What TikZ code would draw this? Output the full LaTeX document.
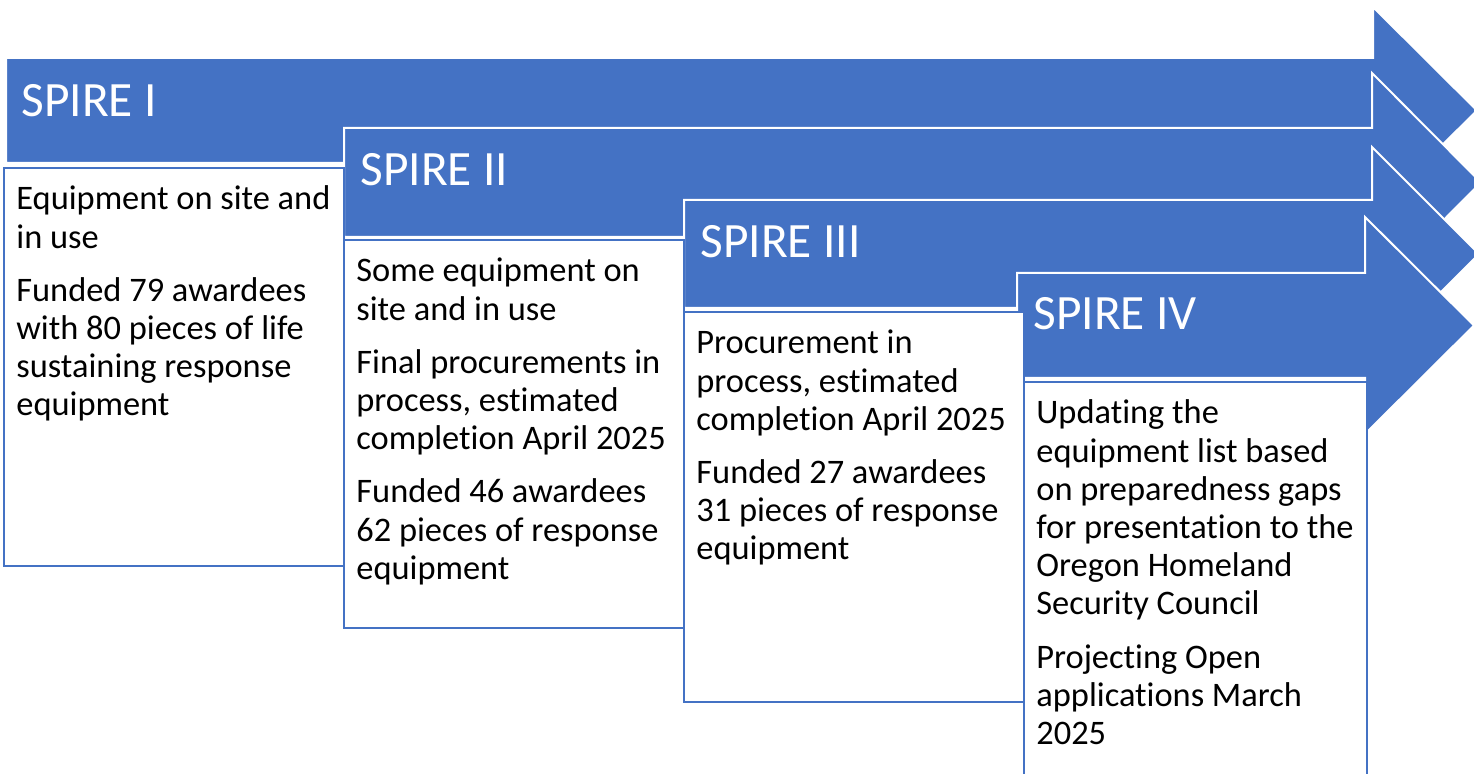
\documentclass[tikz,border=0pt]{standalone}
\usepackage{fontspec}
\setmainfont{Carlito}[Ligatures=NoCommon]
\definecolor{spireblue}{HTML}{4472C4}
\begin{document}
\begin{tikzpicture}[x=0.5pt,y=-0.5pt,
  arrowshape/.style={fill=spireblue,draw=white,line width=1pt,line join=miter},
  infobox/.style={fill=white,draw=spireblue,line width=1pt},
  phase/.style={anchor=base west,inner sep=0pt,text=white,font=\fontsize{24.7}{29}\selectfont},
  infotext/.style={anchor=base west,inner sep=0pt,text width=175pt,align=flush left,font=\fontsize{17.2}{19.1}\selectfont}]
 \useasboundingbox (0,0) rectangle (1474,774);
  % the four arrows, left end / top / bottom / neck / head top / tip
  \foreach \x/\t/\b/\n/\h/\p in {6/58/163/1373/7/1477,344/128/237/1372/73/1481,684/200/308/1372/147/1479,1017/273/378/1365/217/1474}
    \filldraw[arrowshape] (\x,\t) -- (\n,\t) -- (\n,\h) -- (\p,{(\t+\b)/2}) -- (\n,{\t+\b-\h}) -- (\n,\b) -- (\x,\b) -- cycle;
  % boxes under the arrows
  \filldraw[infobox] (4,168) rectangle (344,566);
  \filldraw[infobox] (344,240) rectangle (684,628);
  \filldraw[infobox] (684,312) rectangle (1024,702);
  \filldraw[infobox] (1024,382) rectangle (1367,800);
  % titles
  \node[phase] (t1) at (21,117) {SPIRE I};
  \node[phase] (t2) at (360,186) {SPIRE II};
  \node[phase] (t3) at (700,258) {SPIRE III};
  \node[phase] (t4) at (1033,330) {SPIRE IV};
  % box texts
  \node[infotext] (b1) at (16,210) {Equipment on site and\\in use\\[7.5pt]Funded 79 awardees\\with 80 pieces of life\\sustaining response\\equipment};
  \node[infotext] (b2) at (356,282) {Some equipment on\\site and in use\\[7.5pt]Final procurements in\\process, estimated\\completion April 2025\\[7.5pt]Funded 46 awardees\\62 pieces of response\\equipment};
  \node[infotext] (b3) at (696,354) {Procurement in\\process, estimated\\completion April 2025\\[7.5pt]Funded 27 awardees\\31 pieces of response\\equipment};
  \node[infotext] (b4) at (1036,424) {Updating the\\equipment list based\\on preparedness gaps\\for presentation to the\\Oregon Homeland\\Security Council\\[7.5pt]Projecting Open\\applications March\\2025};
\end{tikzpicture}
\end{document}
